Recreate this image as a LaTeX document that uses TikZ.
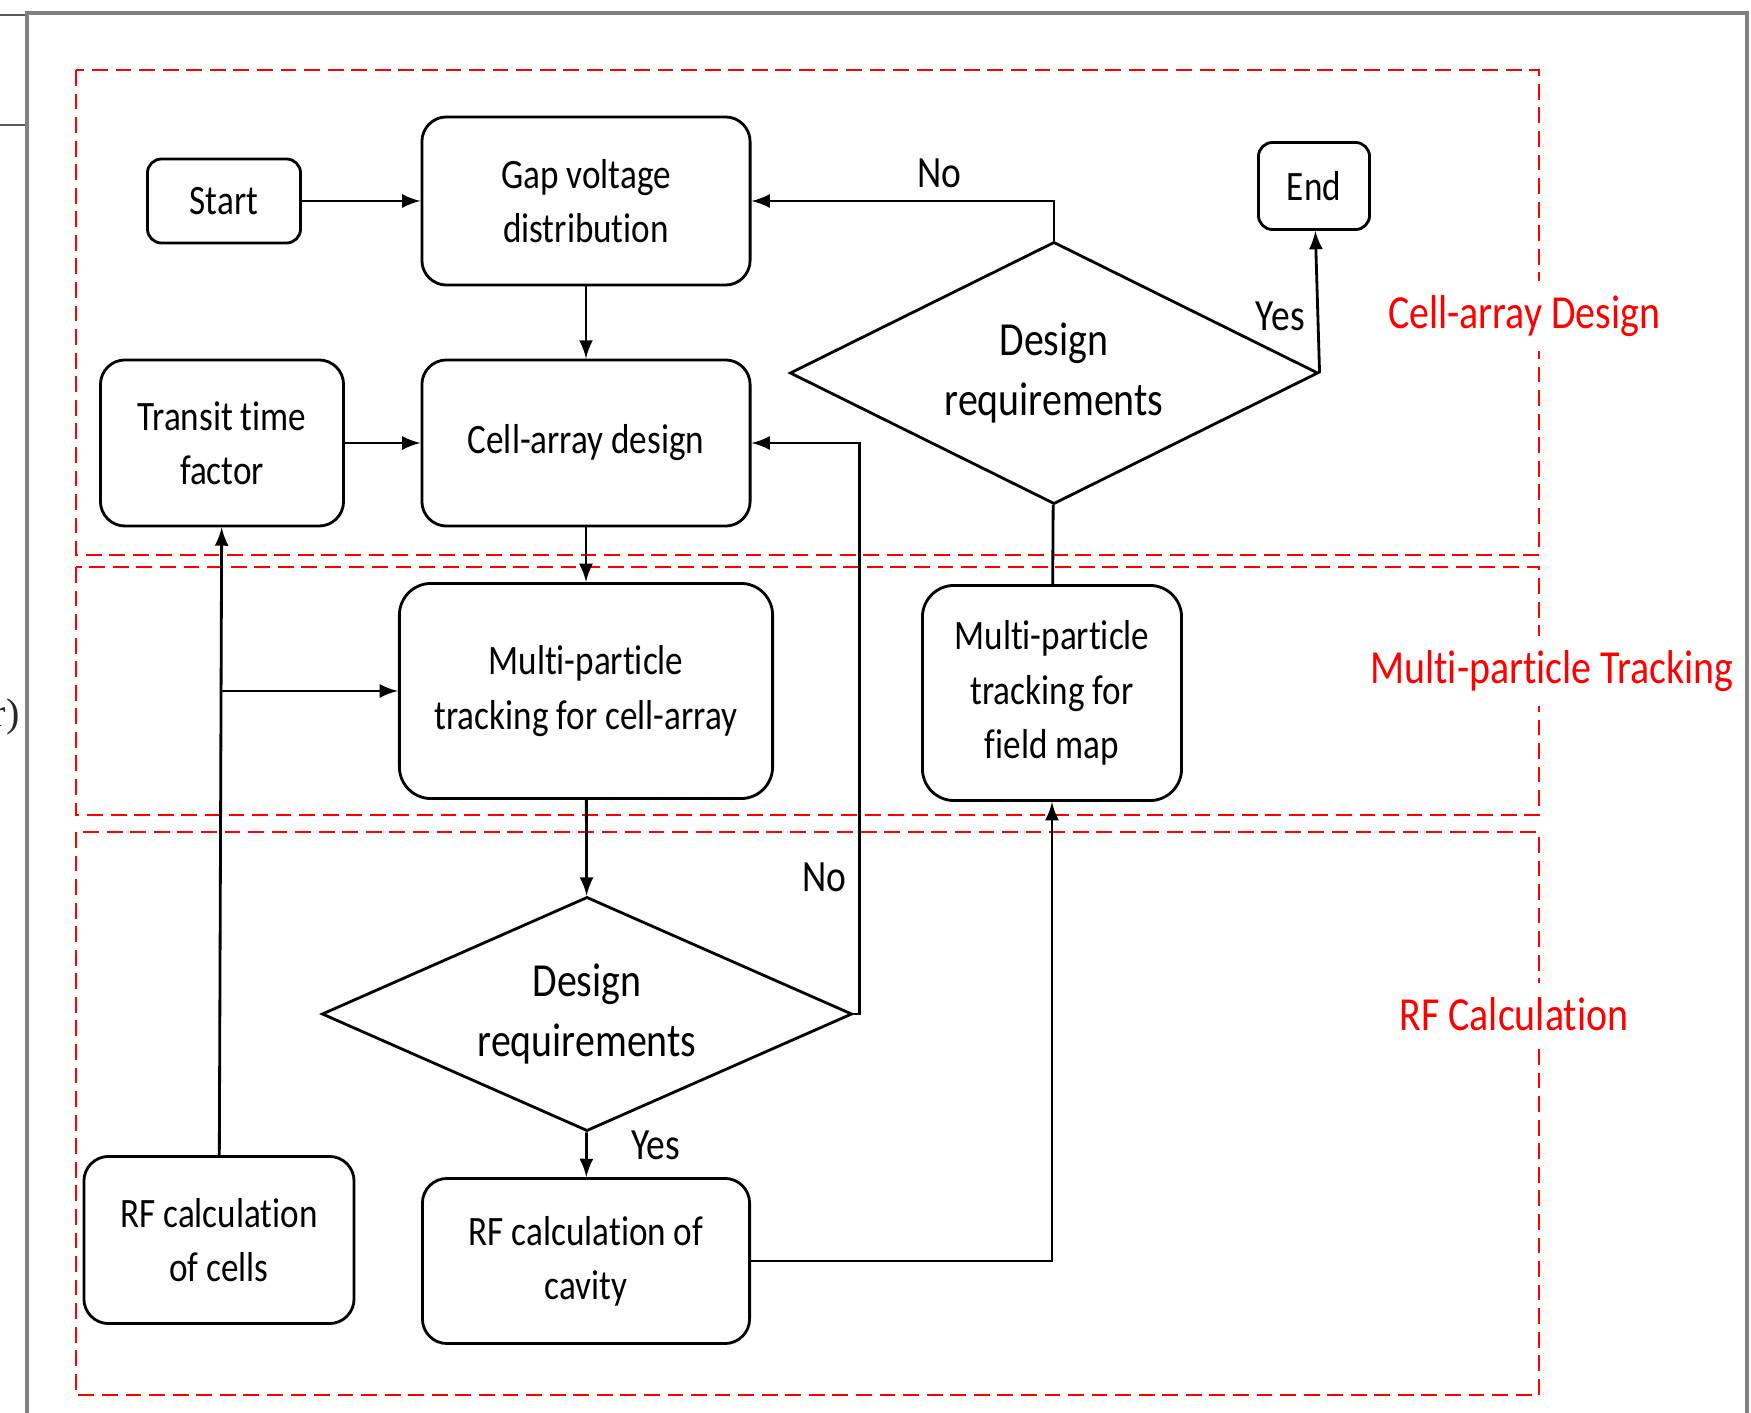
\documentclass[tikz,border=0pt]{standalone}
\usepackage{fontspec}
\setmainfont{Carlito}[FakeStretch=0.84, Ligatures=NoCommon]
\newfontfamily\parenfont{Liberation Serif}
\usetikzlibrary{shapes.geometric}

\begin{document}
\begin{tikzpicture}[x=0.01cm, y=-0.01cm, line width=0.8pt,
  block/.style={rectangle, rounded corners=7pt, draw, align=center, inner sep=0pt, font=\fontsize{11.9}{15.4}\selectfont},
  decision/.style={diamond, shape aspect=2, draw, align=center, inner sep=0pt, font=\fontsize{13.5}{17}\selectfont},
  arrow/.style={-latex},
  region/.style={draw=red, line width=0.6pt, dash pattern=on 4.5pt off 2.2pt},
  regionlabel/.style={fill=white, inner sep=4pt, text=red, font=\fontsize{13.5}{16}\selectfont},
  answer/.style={font=\fontsize{12.7}{15}\selectfont}]
  \useasboundingbox (0,0) rectangle (1751,1413);
  \node (cutoff) at (21,717) [anchor=east, inner sep=0pt, text=black!85, font=\parenfont\fontsize{11.4}{13}\selectfont] {r)};

  % regions
  \draw[region] (76,70) rectangle (1539,555);
  \draw[region] (76,567) rectangle (1539,815);
  \draw[region] (76,832) rectangle (1539,1395);

  \node (start) at (224,201) [block, rounded corners=4pt, minimum width=1.53cm, minimum height=0.84cm] {Start};
  \node (gap) at (586,201) [block, minimum width=3.28cm, minimum height=1.68cm] {Gap voltage\\distribution};
  \node (end) at (1314,186) [block, rounded corners=4pt, minimum width=1.11cm, minimum height=0.87cm] {End};
  \node (check1) at (1054,373) [decision, minimum width=5.28cm, minimum height=2.62cm] {Design\\requirements};
  \node (transit) at (222,443) [block, minimum width=2.43cm, minimum height=1.66cm] {Transit time\\factor};
  \node (cellarray) at (586,443) [block, minimum width=3.28cm, minimum height=1.66cm] {Cell-array design};
  \node (mpcell) at (586,691) [block, rounded corners=9pt, minimum width=3.73cm, minimum height=2.15cm] {Multi-particle\\tracking for cell-array};
  \node (mpmap) at (1052,693) [block, rounded corners=9pt, minimum width=2.59cm, minimum height=2.15cm] {Multi-particle\\tracking for\\field map};
  \node (check2) at (587,1014) [decision, minimum width=5.30cm, minimum height=2.34cm] {Design\\requirements};
  \node (rfcells) at (219,1240) [block, minimum width=2.70cm, minimum height=1.67cm] {RF calculation\\of cells};
  \node (rfcavity) at (586,1261) [block, minimum width=3.27cm, minimum height=1.65cm] {RF calculation of\\cavity};
  \coordinate (split) at (221,691);

  \draw[arrow] (start) -- (gap);
  \draw[arrow] (gap) -- (cellarray);
  \draw[arrow] (transit) -- (cellarray);
  \draw[arrow] (cellarray) -- (mpcell);
  \draw[arrow] (mpcell) -- (check2);
  \draw[arrow] (check2) -- node[answer, pos=0.3, right=9pt] {Yes} (rfcavity);
  \draw[arrow] (check2.east) -- ++(6,0) |- (cellarray.east) node[answer, pos=0.12, left] {No};
  \draw[arrow] (rfcells) -- (transit);
  \draw[arrow] (split) -- (mpcell);
  \draw[arrow] (rfcavity) -| (mpmap);
  \draw (mpmap) -- (check1);
  \draw[arrow] (check1) |- (gap) node[answer, pos=0.69, above] {No};
  \draw[arrow] (check1.east) -- (end) node[answer, pos=0.4, left] {Yes};

  \node (lbldesign) at (1524,316) [regionlabel] {Cell-array Design};
  \node (lbltrack) at (1552,671) [regionlabel] {Multi-particle Tracking};
  \node (lblrf) at (1514,1014) [regionlabel] {RF Calculation};

  % page frame
  \draw[line width=1.4pt, color={rgb,255:red,128;green,128;blue,128}] (27,1413) -- (27,13) -- (1747,13) -- (1747,1413);
  \draw[line width=0.4pt, gray!70!black] (0,15) -- (25,15);
  \draw[line width=0.4pt, gray!70!black] (0,125) -- (25,125);
\end{tikzpicture}
\end{document}
